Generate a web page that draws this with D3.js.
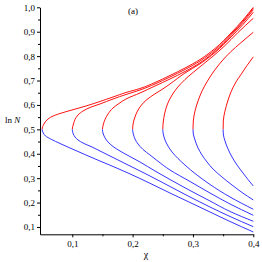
<!DOCTYPE html>
<html><head><meta charset="utf-8">
<script src="https://cdn.jsdelivr.net/npm/d3@7"></script>
<style>body{margin:0;background:#fff}svg{display:block}
text{font-family:"Liberation Serif","DejaVu Serif",serif}</style>
</head><body><svg id="c" width="262" height="262"></svg>
<script>
// tick values
const yTicks = [0.1,0.2,0.3,0.4,0.5,0.6,0.7,0.8,0.9,1.0];
const yMinor = [0.15,0.25,0.35,0.45,0.55,0.65,0.75,0.85,0.95];
const xTicks = [0.1,0.2,0.3,0.4];
const xMinor = [0.15,0.25,0.35];
// each curve: [chi, lnN] pairs
const curve1 = [[0.4,1.0],[0.3829,0.948],[0.363,0.8947],[0.3365,0.8312],[0.3117,0.7861],[0.2868,0.7513],[0.2619,0.7206],[0.2371,0.6919],[0.2122,0.6673],[0.189,0.651],[0.1675,0.6325],[0.1459,0.6141],[0.1227,0.5957],[0.0995,0.5793],[0.0797,0.5649],[0.0664,0.5526],[0.0581,0.5383],[0.0531,0.5219],[0.05,0.5],
  [0.052,0.485],[0.0556,0.4728],[0.0652,0.4592],[0.0797,0.442],[0.0962,0.4236],[0.1227,0.3949],[0.1459,0.3703],[0.1708,0.3445],[0.1923,0.3212],[0.2288,0.279],[0.2619,0.2392],[0.2951,0.2003],[0.3282,0.1614],[0.3614,0.1225],[0.4,0.0795]];
const curve2 = [[0.4,0.9971],[0.3829,0.9431],[0.363,0.8898],[0.3365,0.8251],[0.3117,0.78],[0.2868,0.7452],[0.2619,0.7145],[0.2371,0.6858],[0.2122,0.6612],[0.189,0.6428],[0.1675,0.6243],[0.1459,0.6039],[0.1294,0.5895],[0.1178,0.5752],[0.1095,0.5588],[0.1045,0.5404],[0.102,0.5219],[0.1,0.5],
  [0.1017,0.4809],[0.1045,0.4687],[0.1095,0.4564],[0.1194,0.442],[0.1327,0.4277],[0.1459,0.4113],[0.1708,0.3806],[0.1923,0.354],[0.2288,0.3089],[0.2619,0.2659],[0.2951,0.2229],[0.3282,0.1819],[0.3614,0.143],[0.4,0.1012]];
const curve3 = [[0.4,0.9902],[0.3829,0.9377],[0.363,0.8845],[0.3365,0.8189],[0.3117,0.7726],[0.2868,0.737],[0.2619,0.7063],[0.2371,0.6776],[0.2122,0.6489],[0.189,0.6243],[0.1774,0.6059],[0.1675,0.5875],[0.1592,0.5629],[0.1542,0.5404],[0.1517,0.5219],[0.15,0.5],
  [0.1514,0.4809],[0.1544,0.4646],[0.1592,0.4482],[0.1675,0.4297],[0.1791,0.4113],[0.1923,0.3929],[0.2122,0.3662],[0.2371,0.3294],[0.2619,0.2945],[0.2951,0.2495],[0.3282,0.2065],[0.3614,0.1635],[0.4,0.1233]];
const curve4 = [[0.4,0.9799],[0.3829,0.9295],[0.363,0.8783],[0.3365,0.8148],[0.3117,0.7685],[0.2868,0.7308],[0.2619,0.6858],[0.2487,0.6633],[0.2354,0.6428],[0.2238,0.6223],[0.2147,0.5997],[0.2081,0.5752],[0.2039,0.5506],[0.2011,0.526],[0.2,0.5],
  [0.2011,0.4809],[0.2039,0.4605],[0.2089,0.44],[0.2172,0.4175],[0.2288,0.3949],[0.2404,0.3724],[0.2619,0.3335],[0.2951,0.2864],[0.3282,0.2392],[0.3614,0.1942],[0.4,0.1479]];
const curve5 = [[0.4,0.9549],[0.3746,0.8968],[0.3514,0.8394],[0.3316,0.7964],[0.3133,0.7595],[0.3001,0.7329],[0.2868,0.7042],[0.2736,0.6694],[0.2644,0.6366],[0.2578,0.6039],[0.2533,0.567],[0.2508,0.5301],[0.25,0.5],
  [0.2508,0.4809],[0.2537,0.4564],[0.2586,0.4318],[0.2653,0.4072],[0.2752,0.3806],[0.2885,0.3499],[0.3034,0.3191],[0.3282,0.2741],[0.3614,0.2229],[0.4,0.1725]];
const curve6 = [[0.4,0.8976],[0.3896,0.8763],[0.378,0.8517],[0.363,0.8189],[0.3481,0.78],[0.3349,0.739],[0.3241,0.6981],[0.315,0.6571],[0.3084,0.6161],[0.3034,0.5752],[0.3006,0.5342],[0.3,0.5],
  [0.3006,0.4809],[0.3034,0.4564],[0.3084,0.4236],[0.315,0.3949],[0.3233,0.3662],[0.3332,0.3376],[0.3481,0.3048],[0.3647,0.272],[0.3813,0.2413],[0.4,0.2106]];
const curve7 = [[0.4,0.7968],[0.3896,0.7616],[0.3796,0.7247],[0.3713,0.694],[0.363,0.653],[0.3572,0.612],[0.3531,0.5752],[0.3503,0.5342],[0.35,0.5],
  [0.3503,0.4809],[0.3531,0.4523],[0.3581,0.4195],[0.3647,0.3867],[0.373,0.354],[0.3829,0.3212],[0.3912,0.2945],[0.4,0.2679]];
const curves = [curve1,curve2,curve3,curve4,curve5,curve6,curve7];
const splitLnN = 0.5;

const svg = d3.select("#c");
const x = d3.scaleLinear().domain([0.0465,0.4]).range([40,253.3]);
const y = d3.scaleLinear().domain([0.07,1.0]).range([234.3,7.3]);
const fmt = d => d3.format(".1f")(d).replace(".", ",");

const defs = svg.append("defs");
defs.append("clipPath").attr("id","top").append("rect")
  .attr("x",0).attr("y",0).attr("width",262).attr("height",y(splitLnN));
defs.append("clipPath").attr("id","bot").append("rect")
  .attr("x",0).attr("y",y(splitLnN)).attr("width",262).attr("height",262-y(splitLnN));

const line = d3.line().x(d=>x(d[0])).y(d=>y(d[1])).curve(d3.curveMonotoneY);
curves.forEach(c=>{
  const pts = c.slice().sort((a,b)=>a[1]-b[1]);
  svg.append("path").attr("d",line(pts)).attr("fill","none").attr("stroke","#ff1111").attr("stroke-width",1).attr("clip-path","url(#top)");
  svg.append("path").attr("d",line(pts)).attr("fill","none").attr("stroke","#3535ff").attr("stroke-width",1).attr("clip-path","url(#bot)");
});

// axes
const ya = svg.append("g").attr("transform","translate(40,0)")
  .call(d3.axisLeft(y).tickValues(yTicks).tickFormat(fmt).tickSize(3).tickSizeOuter(0));
svg.append("g").attr("transform","translate(40,0)")
  .call(d3.axisLeft(y).tickValues(yMinor).tickFormat("").tickSize(2).tickSizeOuter(0))
  .select(".domain").remove();
const xa = svg.append("g").attr("transform","translate(0,234.3)")
  .call(d3.axisBottom(x).tickValues(xTicks).tickFormat(fmt).tickSize(3).tickSizeOuter(0));
svg.append("g").attr("transform","translate(0,234.3)")
  .call(d3.axisBottom(x).tickValues(xMinor).tickFormat("").tickSize(2).tickSizeOuter(0))
  .select(".domain").remove();
svg.selectAll(".tick text").attr("font-family",null).attr("font-size",9).attr("fill","#000");
ya.selectAll(".tick text").attr("x",-5);
xa.selectAll(".tick text").attr("y",6);
svg.selectAll(".domain,.tick line").attr("stroke","#000");

// labels
const yl = svg.append("text").attr("x",5).attr("y",123).attr("font-size",9);
yl.append("tspan").text("ln ");
yl.append("tspan").attr("font-style","italic").text("N");
svg.append("text").attr("x",146).attr("y",258).attr("text-anchor","middle").attr("font-size",10).text("χ");
svg.append("text").attr("x",133).attr("y",14).attr("text-anchor","middle").attr("font-size",9).text("(a)");
</script></body></html>
